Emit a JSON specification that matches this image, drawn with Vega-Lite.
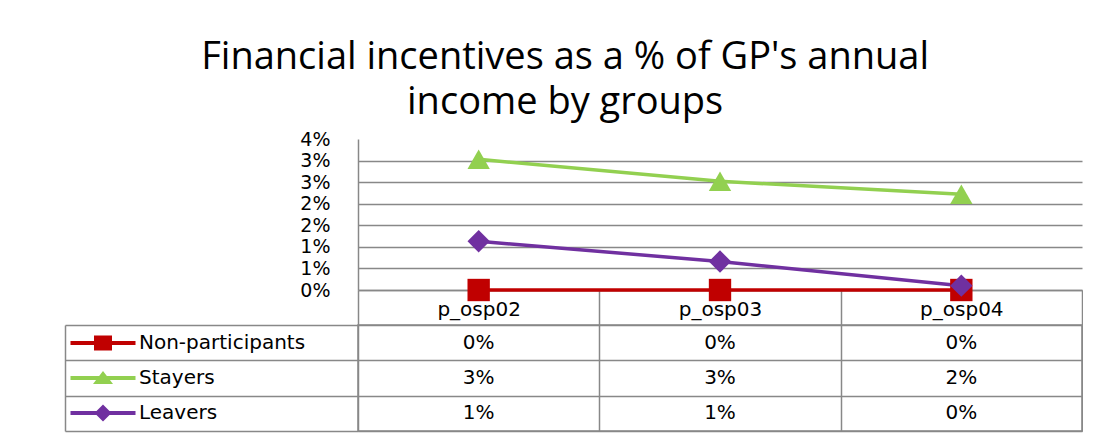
{
  "$schema": "https://vega.github.io/schema/vega-lite/v6.json",
  "background": "white",
  "padding": {"left": 63, "top": 39, "right": 0, "bottom": 0},
  "bounds": "flush",
  "spacing": 35,
  "resolve": {
    "scale": {"color": "independent", "shape": "independent"},
    "legend": {"color": "independent", "shape": "independent"}
  },
  "title": {
    "text": ["Financial incentives as a % of GP's annual", "income  by groups"],
    "font": "Open Sans",
    "fontSize": 38,
    "fontWeight": "normal",
    "color": "#000000",
    "lineHeight": 45,
    "anchor": "middle",
    "dx": -8,
    "offset": 8
  },
  "config": {"view": {"stroke": null}},
  "datasets": {
    "incentives": [
      {"series": "Non-participants", "period": "p_osp02", "value": 0},
      {"series": "Non-participants", "period": "p_osp03", "value": 0},
      {"series": "Non-participants", "period": "p_osp04", "value": 0},
      {"series": "Stayers", "period": "p_osp02", "value": 0.0303},
      {"series": "Stayers", "period": "p_osp03", "value": 0.0252},
      {"series": "Stayers", "period": "p_osp04", "value": 0.0222},
      {"series": "Leavers", "period": "p_osp02", "value": 0.0113},
      {"series": "Leavers", "period": "p_osp03", "value": 0.0066},
      {"series": "Leavers", "period": "p_osp04", "value": 0.001}
    ]
  },
  "vconcat": [
    {
      "width": 724,
      "height": 151,
      "view": {"stroke": null},
      "data": {"name": "incentives"},
      "encoding": {
        "x": {
          "field": "period",
          "type": "nominal",
          "sort": ["p_osp02", "p_osp03", "p_osp04"],
          "scale": {"type": "band", "paddingInner": 0, "paddingOuter": 0},
          "axis": {
            "title": null,
            "orient": "bottom",
            "labelAngle": 0,
            "tickBand": "extent",
            "ticks": true,
            "tickSize": 35,
            "tickColor": "#888888",
            "tickWidth": 1.5,
            "domain": true,
            "domainColor": "#888888",
            "domainWidth": 1.5,
            "grid": false,
            "labelFont": "DejaVu Sans",
            "labelFontSize": 20,
            "labelColor": "#000000",
            "labelBaseline": "middle",
            "labelPadding": -16
          }
        },
        "y": {
          "field": "value",
          "type": "quantitative",
          "scale": {"domain": [0, 0.035], "nice": false},
          "axis": {
            "title": null,
            "values": [0, 0.005, 0.01, 0.015, 0.02, 0.025, 0.03, 0.035],
            "format": ".0%",
            "ticks": false,
            "labelPadding": 28,
            "labelFont": "DejaVu Sans",
            "labelFontSize": 19,
            "labelColor": "#000000",
            "grid": true,
            "gridColor": "#888888",
            "gridWidth": 1.5,
            "gridOpacity": {"condition": {"test": "datum.value >= 0.034", "value": 0}, "value": 1},
            "domain": true,
            "domainColor": "#888888",
            "domainWidth": 1.5
          }
        },
        "color": {
          "field": "series",
          "type": "nominal",
          "scale": {
            "domain": ["Non-participants", "Stayers", "Leavers"],
            "range": ["#C00000", "#92D050", "#7030A0"]
          },
          "legend": null
        }
      },
      "layer": [
        {"mark": {"type": "line", "strokeWidth": 3.5}},
        {
          "mark": {"type": "point", "filled": true, "opacity": 1, "size": 500},
          "encoding": {
            "shape": {
              "field": "series",
              "type": "nominal",
              "scale": {
                "domain": ["Non-participants", "Stayers", "Leavers"],
                "range": ["square", "triangle-up", "diamond"]
              },
              "legend": null
            }
          }
        }
      ]
    },
    {
      "width": 724,
      "height": 106,
      "view": {"stroke": "#888888", "strokeWidth": 1.5},
      "data": {"name": "incentives"},
      "encoding": {
        "x": {
          "field": "period",
          "type": "nominal",
          "sort": ["p_osp02", "p_osp03", "p_osp04"],
          "scale": {"type": "band", "paddingInner": 0, "paddingOuter": 0},
          "axis": {
            "title": null,
            "labels": false,
            "ticks": false,
            "domain": false,
            "grid": true,
            "tickBand": "extent",
            "gridColor": "#888888",
            "gridWidth": 1.5
          }
        },
        "y": {
          "field": "series",
          "type": "nominal",
          "sort": ["Non-participants", "Stayers", "Leavers"],
          "scale": {"type": "band", "paddingInner": 0, "paddingOuter": 0},
          "axis": {
            "title": null,
            "labels": false,
            "grid": true,
            "tickBand": "extent",
            "gridColor": "#888888",
            "gridWidth": 1.5,
            "ticks": true,
            "tickSize": -293,
            "tickColor": "#888888",
            "tickWidth": 1.5,
            "offset": 293,
            "domain": true,
            "domainColor": "#888888",
            "domainWidth": 1.5
          }
        }
      },
      "layer": [
        {
          "mark": {"type": "text", "font": "DejaVu Sans", "fontSize": 20, "color": "#000000"},
          "encoding": {
            "text": {"field": "value", "type": "quantitative", "format": ".0%"}
          }
        },
        {
          "mark": {"type": "point", "filled": true, "size": 0, "opacity": 1},
          "encoding": {
            "color": {
              "field": "series",
              "type": "nominal",
              "scale": {
                "domain": ["Non-participants", "Stayers", "Leavers"],
                "range": ["#C00000", "#92D050", "#7030A0"]
              },
              "legend": {
                "orient": "none",
                "legendX": -265,
                "legendY": 8,
                "title": null,
                "direction": "vertical",
                "symbolSize": 100,
                "symbolStrokeWidth": 0,
                "labelFont": "DejaVu Sans",
                "labelFontSize": 20,
                "labelColor": "#000000",
                "labelLimit": 400,
                "labelOffset": 26,
                "rowPadding": 15
              }
            },
            "shape": {
              "field": "series",
              "type": "nominal",
              "scale": {
                "domain": ["Non-participants", "Stayers", "Leavers"],
                "range": [
                  "M-6.5,-0.4H6.5V0.4H-6.5Z M-1.8,-1.5H1.8V1.5H-1.8Z",
                  "M-6.5,-0.4H6.5V0.4H-6.5Z M0,-1.4L2,1.2H-2Z",
                  "M-6.5,-0.4H6.5V0.4H-6.5Z M0,-1.7L1.7,0L0,1.7L-1.7,0Z"
                ]
              },
              "legend": {
                "orient": "none",
                "legendX": -265,
                "legendY": 8,
                "title": null,
                "direction": "vertical",
                "symbolSize": 100,
                "symbolStrokeWidth": 0,
                "labelFont": "DejaVu Sans",
                "labelFontSize": 20,
                "labelColor": "#000000",
                "labelLimit": 400,
                "labelOffset": 26,
                "rowPadding": 15
              }
            }
          }
        }
      ]
    }
  ]
}
